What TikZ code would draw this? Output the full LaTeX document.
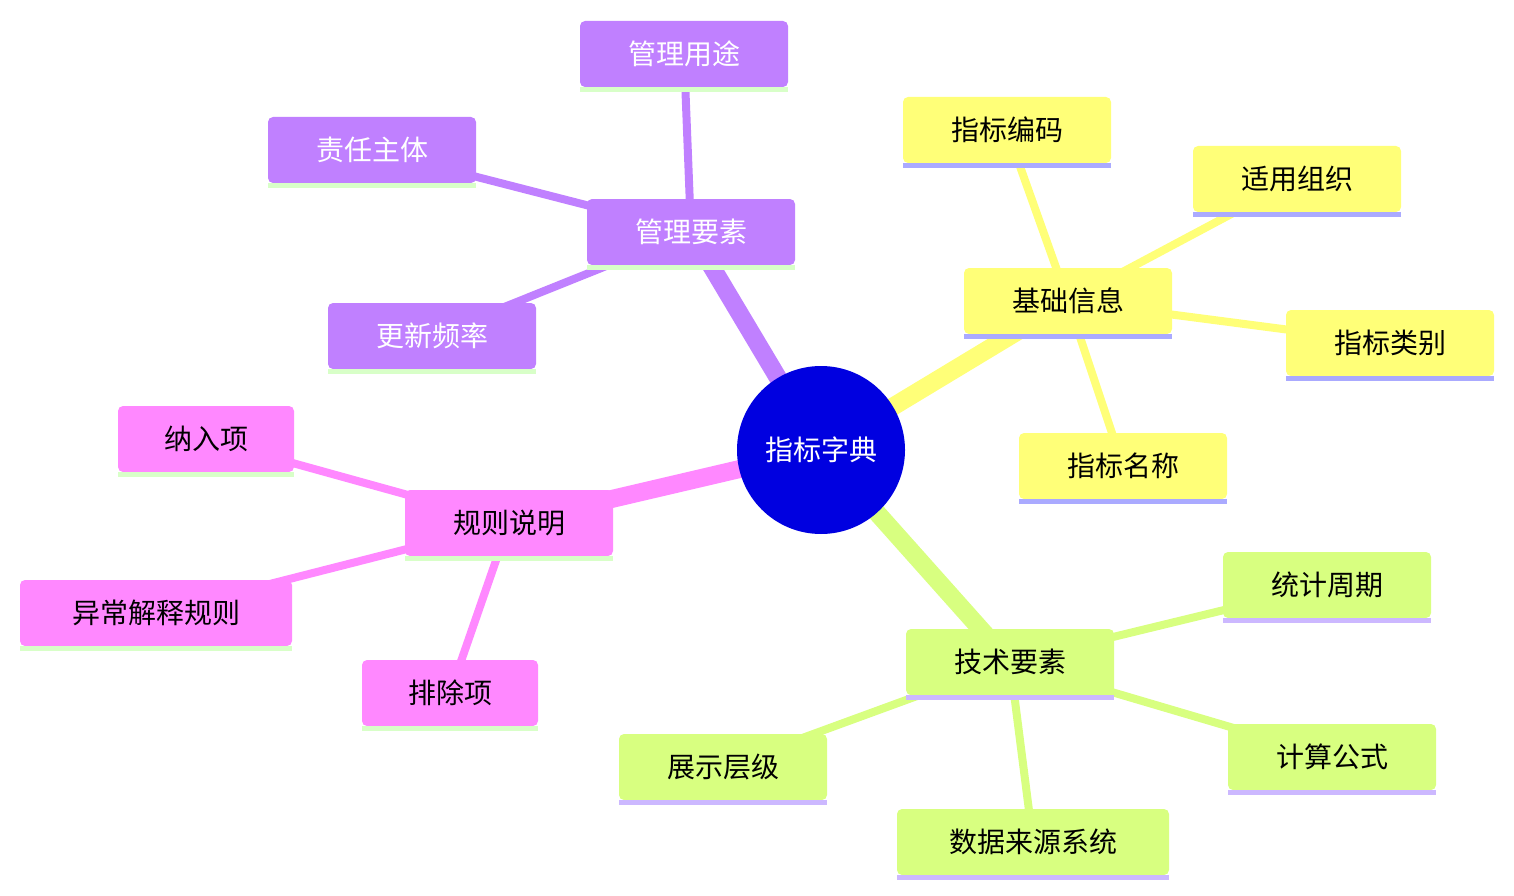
\documentclass[tikz,border=0pt]{standalone}
\usepackage{fontspec}
\newfontfamily\cjk{Noto Sans CJK SC}
\begin{document}
\begin{tikzpicture}[x=1pt,y=-1pt,
  box/.style={rounded corners=5pt,minimum height=66pt,inner sep=0pt,font=\cjk\fontsize{28}{30}\selectfont},
  pur/.style={box,fill=purpleC,text=white},
  yel/.style={box,fill=yellowC,text=black},
  pnk/.style={box,fill=pinkC,text=black},
  grn/.style={box,fill=greenC,text=black}]
\definecolor{purpleC}{HTML}{C080FF}
\definecolor{yellowC}{HTML}{FFFF78}
\definecolor{pinkC}{HTML}{FF88FF}
\definecolor{greenC}{HTML}{D8FF80}
\definecolor{stripeG}{HTML}{D8FFC8}
\definecolor{stripeB}{HTML}{AAAAFF}
\definecolor{stripeL}{HTML}{CCB8FF}
\definecolor{rootC}{HTML}{0000E0}
\useasboundingbox (0,0) rectangle (1514,896);
% nodes positions as coordinates
\coordinate (R) at (821,450);
\coordinate (M) at (691,232);
\coordinate (M1) at (684,54);
\coordinate (M2) at (372,150);
\coordinate (M3) at (432,336);
\coordinate (B) at (1068,301);
\coordinate (B1) at (1007,130);
\coordinate (B2) at (1297,179);
\coordinate (B3) at (1390,343);
\coordinate (B4) at (1123,466);
\coordinate (G) at (509,523);
\coordinate (G1) at (206,439);
\coordinate (G2) at (156,613);
\coordinate (G3) at (450,693);
\coordinate (T) at (1010,662);
\coordinate (T1) at (1327,585);
\coordinate (T2) at (1332,757);
\coordinate (T3) at (1033,842);
\coordinate (T4) at (723,767);
% edges
\draw[line width=18pt,purpleC] (R) -- (M);
\draw[line width=18pt,yellowC] (R) -- (B);
\draw[line width=18pt,pinkC] (R) -- (G);
\draw[line width=18pt,greenC] (R) -- (T);
\foreach \c in {M1,M2,M3} \draw[line width=8pt,purpleC] (M) -- (\c);
\foreach \c in {B1,B2,B3,B4} \draw[line width=8pt,yellowC] (B) -- (\c);
\foreach \c in {G1,G2,G3} \draw[line width=8pt,pinkC] (G) -- (\c);
\foreach \c in {T1,T2,T3,T4} \draw[line width=8pt,greenC] (T) -- (\c);
% boxes
\node[pur,minimum width=208pt] (m) at (M) {管理要素};
\node[pur,minimum width=208pt] (m1) at (M1) {管理用途};
\node[pur,minimum width=208pt] (m2) at (M2) {责任主体};
\node[pur,minimum width=208pt] (m3) at (M3) {更新频率};
\node[yel,minimum width=208pt] (b) at (B) {基础信息};
\node[yel,minimum width=208pt] (b1) at (B1) {指标编码};
\node[yel,minimum width=208pt] (b2) at (B2) {适用组织};
\node[yel,minimum width=208pt] (b3) at (B3) {指标类别};
\node[yel,minimum width=208pt] (b4) at (B4) {指标名称};
\node[pnk,minimum width=208pt] (g) at (G) {规则说明};
\node[pnk,minimum width=176pt] (g1) at (G1) {纳入项};
\node[pnk,minimum width=272pt] (g2) at (G2) {异常解释规则};
\node[pnk,minimum width=176pt] (g3) at (G3) {排除项};
\node[grn,minimum width=208pt] (t) at (T) {技术要素};
\node[grn,minimum width=208pt] (t1) at (T1) {统计周期};
\node[grn,minimum width=208pt] (t2) at (T2) {计算公式};
\node[grn,minimum width=272pt] (t3) at (T3) {数据来源系统};
\node[grn,minimum width=208pt] (t4) at (T4) {展示层级};
\foreach \n in {m,m1,m2,m3,g,g1,g2,g3}
  \fill[stripeG] (\n.south west) rectangle ([yshift=-5pt]\n.south east);
\foreach \n in {b,b1,b2,b3,b4}
  \fill[stripeB] (\n.south west) rectangle ([yshift=-5pt]\n.south east);
\foreach \n in {t,t1,t2,t3,t4}
  \fill[stripeL] (\n.south west) rectangle ([yshift=-5pt]\n.south east);
\node[circle,fill=rootC,minimum size=168pt,inner sep=0pt,text=white,font=\cjk\fontsize{28}{30}\selectfont] (r) at (R) {指标字典};
\end{tikzpicture}
\end{document}
